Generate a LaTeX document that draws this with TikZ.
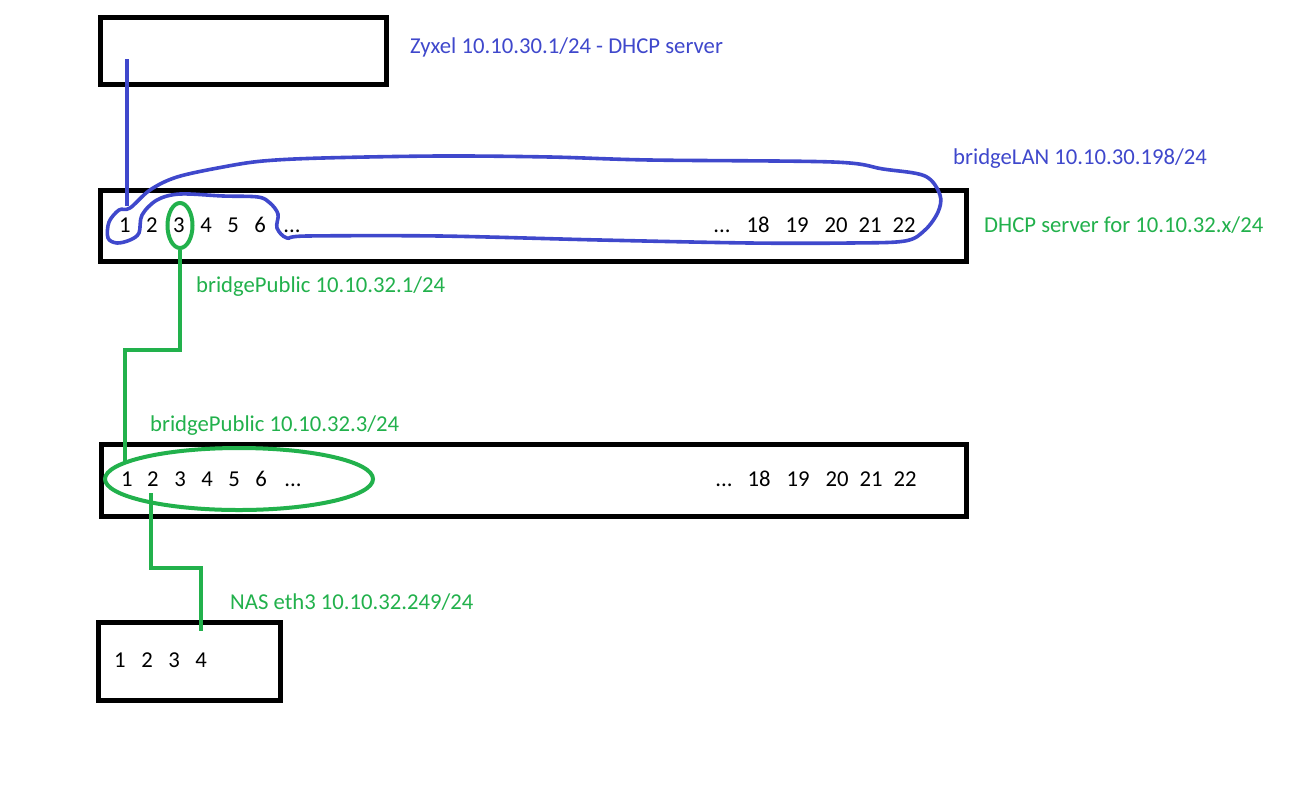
\documentclass[tikz,border=0pt]{standalone}
\usepackage{fontspec}
\setmainfont{Carlito}
\usetikzlibrary{shapes.geometric}
\definecolor{pblue}{HTML}{3F48CC}
\definecolor{pgreen}{HTML}{22B14C}
\begin{document}
\begin{tikzpicture}[x=1pt,y=-1pt,
  every node/.style={font=\fontsize{22.7}{27}\selectfont},
  devbox/.style={draw=black,line width=5pt,inner sep=0pt,rectangle},
  port/.style={anchor=base,inner sep=0pt},
  bluelbl/.style={anchor=base west,inner sep=0pt,text=pblue},
  greenlbl/.style={anchor=base west,inner sep=0pt,text=pgreen},
  bluewire/.style={draw=pblue,line width=3.6pt},
  greenwire/.style={draw=pgreen,line width=4.5pt},
  ring/.style={ellipse,draw=pgreen,line width=4pt,inner sep=0pt}]
\useasboundingbox (0,0) rectangle (1313,788);
\fill[white] (0,0) rectangle (1313,788);
% devices
\node[devbox,minimum width=286pt,minimum height=67pt] (zyxel) at (243,50.5) {};
\node[devbox,minimum width=866pt,minimum height=71pt] (sw1) at (533,225.5) {};
\node[devbox,minimum width=865pt,minimum height=72pt] (sw2) at (533.5,480) {};
\node[devbox,minimum width=182pt,minimum height=78pt] (nas) at (189,661) {};
% switch 1 ports
\foreach \n/\x in {1/125,2/152,3/179,4/206,5/233,6/260,18/758,19/797,20/836,21/870,22/904}
  \node[port] (s1p\n) at (\x,232) {\n};
\node[port] (s1d1) at (292,232) {...};
\node[port] (s1d2) at (722,232) {...};
% switch 2 ports
\foreach \n/\x in {1/127,2/153,3/180,4/207,5/234,6/261,18/759,19/798,20/837,21/871,22/905}
  \node[port] (s2p\n) at (\x,486) {\n};
\node[port] (s2d1) at (293,486) {...};
\node[port] (s2d2) at (724,486) {...};
% NAS ports
\foreach \n/\x in {1/120,2/147,3/174,4/201}
  \node[port] (n\n) at (\x,667) {\n};
% labels
\node[bluelbl] (lzy) at (410,53) {Zyxel 10.10.30.1/24 - DHCP server};
\node[bluelbl] (lbl) at (953,164) {bridgeLAN 10.10.30.198/24};
\node[greenlbl] (ldh) at (984,232) {DHCP server for 10.10.32.x/24};
\node[greenlbl] (lbp1) at (196,292) {bridgePublic 10.10.32.1/24};
\node[greenlbl] (lbp3) at (150,431) {bridgePublic 10.10.32.3/24};
\node[greenlbl] (lnas) at (230,609) {NAS eth3 10.10.32.249/24};
% blue link and bridge loop
\coordinate (zyport) at (127,59);
\draw[bluewire] (zyport) -- ([yshift=11pt]zyport |- s1p1.north);
\draw[bluewire,line join=round] plot[smooth cycle,tension=0.55] coordinates {
  (130,208) (150,190) (177,177) (223,167) (263,161) (323,158) (440,156)
  (550,157) (650,160) (833,162) (883,169) (925,176) (940,195) (938,212)
  (925,230) (905,241) (850,243) (750,243) (600,240) (440,236) (307,236)
  (287,238) (277,228) (278,214) (270,203) (258,197) (223,196) (180,194)
  (157,200) (142,215) (139,233) (130,240) (117,243) (108,238) (109,222)
  (119,210)};
% green rings
\node[ring,minimum width=25pt,minimum height=45pt] (r3) at (180,225.5) {};
\node[ring,minimum width=268pt,minimum height=62pt] (r2) at (239,479) {};
% green links
\coordinate (bend1) at (125,350);
\draw[greenwire] (r3.south) |- (bend1) -- ([yshift=10pt]bend1 |- s2p1.north);
\coordinate (bend2) at (151,568);
\draw[greenwire] ([yshift=-7pt]bend2 |- s2p2.south) -- (bend2) -| ([yshift=21pt]n4.north);
\end{tikzpicture}
\end{document}
